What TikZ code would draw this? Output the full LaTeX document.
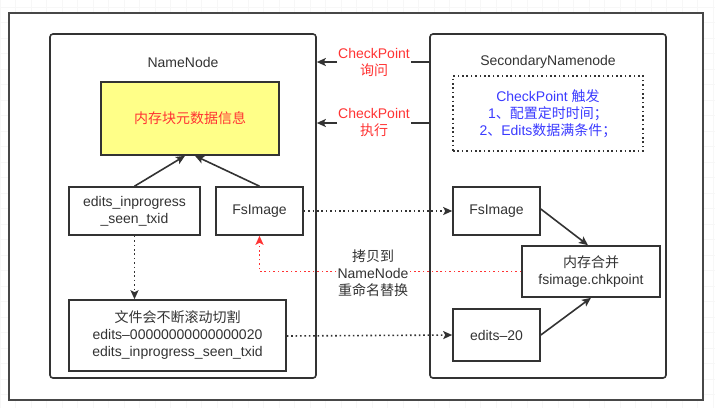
\documentclass[tikz,border=0pt]{standalone}
\usepackage{fontspec}
\setmainfont{Liberation Sans}
\newfontfamily\cjk{Noto Sans CJK SC}
\usetikzlibrary{arrows.meta}
\definecolor{ink}{HTML}{333333}
\definecolor{redtxt}{HTML}{FF3333}
\definecolor{bluetxt}{HTML}{3B3BFF}
\definecolor{yel}{HTML}{FFFF88}
\begin{document}
\begin{tikzpicture}[x=1pt,y=-1pt,
  txt/.style={font=\fontsize{14}{17}\selectfont, text=ink, align=center, inner sep=0pt},
  box/.style={txt, draw=ink, line width=1.6pt, minimum width=#1, anchor=center},
  frame/.style={draw=ink, line width=1.6pt, rounded corners=3pt, inner sep=0pt},
  dots/.style={dash pattern=on 1.6pt off 2.8pt},
  tip/.style={-{Stealth[length=9pt,width=8pt,inset=2pt]}},
  solidarrow/.style={draw=ink, line width=1.6pt, tip},
  dotarrow/.style={draw=ink, line width=1.6pt, dots, tip},
  redlabel/.style={txt, text=redtxt, fill=white, inner sep=1pt}
]
\useasboundingbox (0,0) rectangle (715,408);
% faint grid
\foreach \gx in {0,15.5,...,715} {\draw[gray!6, line width=0.4pt] (\gx,0) -- (\gx,408);}
\foreach \gy in {7,22.5,...,408} {\draw[gray!6, line width=0.4pt] (0,\gy) -- (715,\gy);}
% outer frame
\node[draw=ink!90, line width=1.6pt, fill=white, minimum width=694pt, minimum height=387pt, inner sep=0pt] (outer) at (356,206.5) {};
% containers
\node[frame, minimum width=266pt, minimum height=344pt] (nn) at (183,206) {};
\node[frame, minimum width=236pt, minimum height=344pt] (sn) at (548,206) {};
\node[txt] (nnt) at (183,62) {NameNode};
\node[txt] (snt) at (548,62) {SecondaryNamenode};
% NameNode contents
\node[box=178pt, minimum height=73pt, fill=yel, text=redtxt] (mem) at (190,118.5) {{\cjk 内存块元数据信息}};
\node[box=131pt, minimum height=48pt] (ed) at (134.5,211) {edits\_inprogress\\\_seen\_txid};
\node[box=87pt, minimum height=48pt] (fsl) at (259.5,211) {FsImage};
\node[box=217pt, minimum height=71pt] (bot) at (177.5,335.5) {{\cjk 文件会不断滚动切割}\\edits–00000000000000020\\edits\_inprogress\_seen\_txid};
% Secondary contents
\node[draw=ink, line width=1.6pt, dots, minimum width=190pt, minimum height=75pt, inner sep=0pt] (trig) at (548,113.5) {};
\node[txt, text=bluetxt] (trigt) at (548,114) {CheckPoint {\cjk 触发}\\1{\cjk 、配置定时时间；}\\2{\cjk 、}Edits{\cjk 数据满条件；}};
\node[box=87pt, minimum height=48pt] (fsr) at (496.5,211) {FsImage};
\node[box=138pt, minimum height=51pt] (mg) at (591,271.5) {{\cjk 内存合并}\\fsimage.chkpoint};
\node[box=87pt, minimum height=52pt] (e20) at (496.5,335) {edits–20};
% arrows inside NameNode
\draw[solidarrow] (ed.north) -- ([xshift=-5pt]mem.south);
\draw[solidarrow] (fsl.north) -- ([xshift=5pt]mem.south);
\draw[dotarrow] (ed.south) -- (ed.south |- bot.north);
% cross arrows
\draw[dotarrow] (fsl.east) -- (fsr.west);
\draw[dotarrow] ([yshift=-0.5pt]bot.east) -- (e20.west);
% merge arrows
\draw[solidarrow] ([yshift=2pt]fsr.east) -- ([xshift=-3pt]mg.north);
\draw[solidarrow] (e20.east) -- (mg.south);
% red copy back
\coordinate (rc) at (fsl.south |- mg.west);
\draw[draw=redtxt, line width=1.6pt, dots, -{Stealth[length=9pt,width=8pt,inset=2pt]}] (mg.west) -- (rc) -- (fsl.south);
\node[txt, fill=white, inner sep=1pt] (copy) at (373,273) {{\cjk 拷贝到}\\NameNode\\{\cjk 重命名替换}};
% checkpoint arrows
\node[redlabel] (cp1) at (374,62) {CheckPoint\\{\cjk 询问}};
\draw[draw=ink, line width=1.6pt] (sn.west |- cp1) -- (cp1.east);
\draw[solidarrow] (cp1.west) -- (nn.east |- cp1);
\node[redlabel] (cp2) at (374,123) {CheckPoint\\{\cjk 执行}};
\draw[draw=ink, line width=1.6pt] (sn.west |- cp2) -- (cp2.east);
\draw[solidarrow] (cp2.west) -- (nn.east |- cp2);
\end{tikzpicture}
\end{document}
